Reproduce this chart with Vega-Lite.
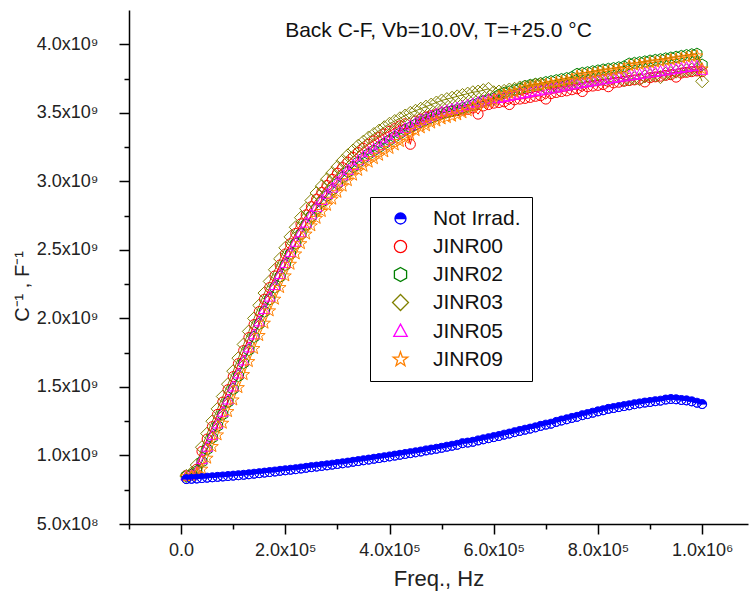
{
  "$schema": "https://vega.github.io/schema/vega-lite/v6.json",
  "width": 619,
  "height": 514,
  "autosize": {"type": "none"},
  "padding": {"left": 129, "top": 10, "right": 2, "bottom": 77},
  "background": "white",
  "title": {"text": "Back C-F, Vb=10.0V, T=+25.0 °C", "orient": "top", "anchor": "middle", "frame": "group", "offset": -28, "dy": 20, "baseline": "alphabetic", "font": "Liberation Sans", "fontSize": 21, "fontWeight": "normal", "color": "#111"},
  "data": {"values": [
    {"f":10000,"NotIrrad":0.828e9,"JINR00":0.855e9,"JINR02":0.850e9,"JINR03":0.850e9,"JINR05":0.850e9,"JINR09":0.845e9},
    {"f":20000,"NotIrrad":0.830e9,"JINR00":0.860e9,"JINR02":0.860e9,"JINR03":0.870e9,"JINR05":0.855e9,"JINR09":0.850e9},
    {"f":30000,"NotIrrad":0.832e9,"JINR00":0.900e9,"JINR02":0.885e9,"JINR03":0.930e9,"JINR05":0.880e9,"JINR09":0.865e9},
    {"f":40000,"NotIrrad":0.835e9,"JINR00":1.030e9,"JINR02":0.955e9,"JINR03":1.060e9,"JINR05":0.970e9,"JINR09":0.900e9},
    {"f":50000,"NotIrrad":0.838e9,"JINR00":1.120e9,"JINR02":1.045e9,"JINR03":1.160e9,"JINR05":1.060e9,"JINR09":0.980e9},
    {"f":60000,"NotIrrad":0.841e9,"JINR00":1.210e9,"JINR02":1.130e9,"JINR03":1.250e9,"JINR05":1.145e9,"JINR09":1.065e9},
    {"f":70000,"NotIrrad":0.844e9,"JINR00":1.300e9,"JINR02":1.215e9,"JINR03":1.340e9,"JINR05":1.230e9,"JINR09":1.150e9},
    {"f":80000,"NotIrrad":0.847e9,"JINR00":1.390e9,"JINR02":1.300e9,"JINR03":1.430e9,"JINR05":1.315e9,"JINR09":1.235e9},
    {"f":90000,"NotIrrad":0.850e9,"JINR00":1.480e9,"JINR02":1.390e9,"JINR03":1.520e9,"JINR05":1.405e9,"JINR09":1.320e9},
    {"f":100000,"NotIrrad":0.853e9,"JINR00":1.575e9,"JINR02":1.485e9,"JINR03":1.615e9,"JINR05":1.500e9,"JINR09":1.405e9},
    {"f":110000,"NotIrrad":0.856e9,"JINR00":1.670e9,"JINR02":1.580e9,"JINR03":1.710e9,"JINR05":1.595e9,"JINR09":1.495e9},
    {"f":120000,"NotIrrad":0.859e9,"JINR00":1.765e9,"JINR02":1.675e9,"JINR03":1.810e9,"JINR05":1.690e9,"JINR09":1.590e9},
    {"f":130000,"NotIrrad":0.863e9,"JINR00":1.860e9,"JINR02":1.770e9,"JINR03":1.905e9,"JINR05":1.785e9,"JINR09":1.685e9},
    {"f":140000,"NotIrrad":0.867e9,"JINR00":1.955e9,"JINR02":1.865e9,"JINR03":2.000e9,"JINR05":1.880e9,"JINR09":1.780e9},
    {"f":150000,"NotIrrad":0.871e9,"JINR00":2.050e9,"JINR02":1.960e9,"JINR03":2.095e9,"JINR05":1.975e9,"JINR09":1.875e9},
    {"f":160000,"NotIrrad":0.875e9,"JINR00":2.140e9,"JINR02":2.050e9,"JINR03":2.185e9,"JINR05":2.065e9,"JINR09":1.965e9},
    {"f":170000,"NotIrrad":0.879e9,"JINR00":2.225e9,"JINR02":2.140e9,"JINR03":2.270e9,"JINR05":2.155e9,"JINR09":2.055e9},
    {"f":180000,"NotIrrad":0.883e9,"JINR00":2.310e9,"JINR02":2.225e9,"JINR03":2.355e9,"JINR05":2.240e9,"JINR09":2.140e9},
    {"f":190000,"NotIrrad":0.888e9,"JINR00":2.390e9,"JINR02":2.305e9,"JINR03":2.435e9,"JINR05":2.320e9,"JINR09":2.225e9},
    {"f":200000,"NotIrrad":0.892e9,"JINR00":2.470e9,"JINR02":2.390e9,"JINR03":2.515e9,"JINR05":2.400e9,"JINR09":2.310e9},
    {"f":210000,"NotIrrad":0.896e9,"JINR00":2.545e9,"JINR02":2.470e9,"JINR03":2.595e9,"JINR05":2.480e9,"JINR09":2.395e9},
    {"f":220000,"NotIrrad":0.900e9,"JINR00":2.620e9,"JINR02":2.545e9,"JINR03":2.665e9,"JINR05":2.555e9,"JINR09":2.470e9},
    {"f":230000,"NotIrrad":0.905e9,"JINR00":2.690e9,"JINR02":2.615e9,"JINR03":2.735e9,"JINR05":2.625e9,"JINR09":2.545e9},
    {"f":240000,"NotIrrad":0.910e9,"JINR00":2.755e9,"JINR02":2.685e9,"JINR03":2.800e9,"JINR05":2.695e9,"JINR09":2.615e9},
    {"f":250000,"NotIrrad":0.915e9,"JINR00":2.815e9,"JINR02":2.745e9,"JINR03":2.860e9,"JINR05":2.755e9,"JINR09":2.675e9},
    {"f":260000,"NotIrrad":0.919e9,"JINR00":2.870e9,"JINR02":2.800e9,"JINR03":2.915e9,"JINR05":2.810e9,"JINR09":2.730e9},
    {"f":270000,"NotIrrad":0.924e9,"JINR00":2.920e9,"JINR02":2.850e9,"JINR03":2.965e9,"JINR05":2.860e9,"JINR09":2.780e9},
    {"f":280000,"NotIrrad":0.928e9,"JINR00":2.970e9,"JINR02":2.895e9,"JINR03":3.015e9,"JINR05":2.905e9,"JINR09":2.825e9},
    {"f":290000,"NotIrrad":0.933e9,"JINR00":3.015e9,"JINR02":2.940e9,"JINR03":3.060e9,"JINR05":2.950e9,"JINR09":2.870e9},
    {"f":300000,"NotIrrad":0.938e9,"JINR00":3.060e9,"JINR02":2.985e9,"JINR03":3.105e9,"JINR05":2.995e9,"JINR09":2.920e9},
    {"f":310000,"NotIrrad":0.943e9,"JINR00":3.100e9,"JINR02":3.030e9,"JINR03":3.150e9,"JINR05":3.040e9,"JINR09":2.965e9},
    {"f":320000,"NotIrrad":0.948e9,"JINR00":3.140e9,"JINR02":3.070e9,"JINR03":3.190e9,"JINR05":3.080e9,"JINR09":3.005e9},
    {"f":330000,"NotIrrad":0.954e9,"JINR00":3.175e9,"JINR02":3.105e9,"JINR03":3.225e9,"JINR05":3.115e9,"JINR09":3.045e9},
    {"f":340000,"NotIrrad":0.959e9,"JINR00":3.210e9,"JINR02":3.140e9,"JINR03":3.260e9,"JINR05":3.150e9,"JINR09":3.080e9},
    {"f":350000,"NotIrrad":0.965e9,"JINR00":3.240e9,"JINR02":3.170e9,"JINR03":3.290e9,"JINR05":3.180e9,"JINR09":3.110e9},
    {"f":360000,"NotIrrad":0.970e9,"JINR00":3.270e9,"JINR02":3.200e9,"JINR03":3.320e9,"JINR05":3.210e9,"JINR09":3.140e9},
    {"f":370000,"NotIrrad":0.976e9,"JINR00":3.295e9,"JINR02":3.225e9,"JINR03":3.345e9,"JINR05":3.235e9,"JINR09":3.165e9},
    {"f":380000,"NotIrrad":0.981e9,"JINR00":3.320e9,"JINR02":3.250e9,"JINR03":3.370e9,"JINR05":3.260e9,"JINR09":3.190e9},
    {"f":390000,"NotIrrad":0.987e9,"JINR00":3.345e9,"JINR02":3.275e9,"JINR03":3.395e9,"JINR05":3.285e9,"JINR09":3.215e9},
    {"f":400000,"NotIrrad":0.993e9,"JINR00":3.365e9,"JINR02":3.300e9,"JINR03":3.420e9,"JINR05":3.310e9,"JINR09":3.240e9},
    {"f":410000,"NotIrrad":0.999e9,"JINR00":3.385e9,"JINR02":3.325e9,"JINR03":3.440e9,"JINR05":3.335e9,"JINR09":3.265e9},
    {"f":420000,"NotIrrad":1.005e9,"JINR00":3.405e9,"JINR02":3.350e9,"JINR03":3.460e9,"JINR05":3.360e9,"JINR09":3.290e9},
    {"f":430000,"NotIrrad":1.011e9,"JINR00":3.420e9,"JINR02":3.375e9,"JINR03":3.480e9,"JINR05":3.385e9,"JINR09":3.315e9},
    {"f":440000,"NotIrrad":1.017e9,"JINR00":3.270e9,"JINR02":3.395e9,"JINR03":3.500e9,"JINR05":3.405e9,"JINR09":3.335e9},
    {"f":450000,"NotIrrad":1.023e9,"JINR00":3.440e9,"JINR02":3.415e9,"JINR03":3.515e9,"JINR05":3.425e9,"JINR09":3.370e9},
    {"f":460000,"NotIrrad":1.029e9,"JINR00":3.455e9,"JINR02":3.435e9,"JINR03":3.530e9,"JINR05":3.445e9,"JINR09":3.390e9},
    {"f":470000,"NotIrrad":1.037e9,"JINR00":3.470e9,"JINR02":3.450e9,"JINR03":3.545e9,"JINR05":3.460e9,"JINR09":3.405e9},
    {"f":480000,"NotIrrad":1.043e9,"JINR00":3.480e9,"JINR02":3.465e9,"JINR03":3.560e9,"JINR05":3.475e9,"JINR09":3.425e9},
    {"f":490000,"NotIrrad":1.049e9,"JINR00":3.490e9,"JINR02":3.480e9,"JINR03":3.575e9,"JINR05":3.490e9,"JINR09":3.440e9},
    {"f":500000,"NotIrrad":1.056e9,"JINR00":3.500e9,"JINR02":3.495e9,"JINR03":3.590e9,"JINR05":3.505e9,"JINR09":3.455e9},
    {"f":510000,"NotIrrad":1.064e9,"JINR00":3.505e9,"JINR02":3.505e9,"JINR03":3.600e9,"JINR05":3.515e9,"JINR09":3.465e9},
    {"f":520000,"NotIrrad":1.071e9,"JINR00":3.510e9,"JINR02":3.515e9,"JINR03":3.610e9,"JINR05":3.525e9,"JINR09":3.475e9},
    {"f":530000,"NotIrrad":1.078e9,"JINR00":3.515e9,"JINR02":3.525e9,"JINR03":3.620e9,"JINR05":3.535e9,"JINR09":3.485e9},
    {"f":540000,"NotIrrad":1.090e9,"JINR00":3.520e9,"JINR02":3.535e9,"JINR03":3.630e9,"JINR05":3.545e9,"JINR09":3.500e9},
    {"f":550000,"NotIrrad":1.094e9,"JINR00":3.525e9,"JINR02":3.545e9,"JINR03":3.640e9,"JINR05":3.555e9,"JINR09":3.515e9},
    {"f":560000,"NotIrrad":1.100e9,"JINR00":3.535e9,"JINR02":3.558e9,"JINR03":3.650e9,"JINR05":3.565e9,"JINR09":3.540e9},
    {"f":570000,"NotIrrad":1.110e9,"JINR00":3.490e9,"JINR02":3.570e9,"JINR03":3.655e9,"JINR05":3.575e9,"JINR09":3.555e9},
    {"f":580000,"NotIrrad":1.118e9,"JINR00":3.550e9,"JINR02":3.585e9,"JINR03":3.665e9,"JINR05":3.585e9,"JINR09":3.570e9},
    {"f":590000,"NotIrrad":1.126e9,"JINR00":3.560e9,"JINR02":3.595e9,"JINR03":3.675e9,"JINR05":3.595e9,"JINR09":3.580e9},
    {"f":600000,"NotIrrad":1.134e9,"JINR00":3.570e9,"JINR02":3.605e9,"JINR03":3.650e9,"JINR05":3.600e9,"JINR09":3.590e9},
    {"f":610000,"NotIrrad":1.142e9,"JINR00":3.575e9,"JINR02":3.630e9,"JINR03":3.655e9,"JINR05":3.605e9,"JINR09":3.620e9},
    {"f":620000,"NotIrrad":1.152e9,"JINR00":3.580e9,"JINR02":3.645e9,"JINR03":3.660e9,"JINR05":3.612e9,"JINR09":3.632e9},
    {"f":630000,"NotIrrad":1.160e9,"JINR00":3.560e9,"JINR02":3.655e9,"JINR03":3.670e9,"JINR05":3.620e9,"JINR09":3.642e9},
    {"f":640000,"NotIrrad":1.170e9,"JINR00":3.595e9,"JINR02":3.665e9,"JINR03":3.675e9,"JINR05":3.627e9,"JINR09":3.650e9},
    {"f":650000,"NotIrrad":1.179e9,"JINR00":3.600e9,"JINR02":3.675e9,"JINR03":3.685e9,"JINR05":3.635e9,"JINR09":3.660e9},
    {"f":660000,"NotIrrad":1.188e9,"JINR00":3.605e9,"JINR02":3.695e9,"JINR03":3.690e9,"JINR05":3.640e9,"JINR09":3.680e9},
    {"f":670000,"NotIrrad":1.196e9,"JINR00":3.612e9,"JINR02":3.703e9,"JINR03":3.695e9,"JINR05":3.647e9,"JINR09":3.688e9},
    {"f":680000,"NotIrrad":1.205e9,"JINR00":3.620e9,"JINR02":3.710e9,"JINR03":3.705e9,"JINR05":3.655e9,"JINR09":3.695e9},
    {"f":690000,"NotIrrad":1.216e9,"JINR00":3.625e9,"JINR02":3.715e9,"JINR03":3.710e9,"JINR05":3.660e9,"JINR09":3.700e9},
    {"f":700000,"NotIrrad":1.225e9,"JINR00":3.600e9,"JINR02":3.723e9,"JINR03":3.680e9,"JINR05":3.667e9,"JINR09":3.708e9},
    {"f":710000,"NotIrrad":1.232e9,"JINR00":3.640e9,"JINR02":3.730e9,"JINR03":3.685e9,"JINR05":3.674e9,"JINR09":3.715e9},
    {"f":720000,"NotIrrad":1.245e9,"JINR00":3.648e9,"JINR02":3.737e9,"JINR03":3.690e9,"JINR05":3.680e9,"JINR09":3.722e9},
    {"f":730000,"NotIrrad":1.255e9,"JINR00":3.655e9,"JINR02":3.745e9,"JINR03":3.700e9,"JINR05":3.688e9,"JINR09":3.730e9},
    {"f":740000,"NotIrrad":1.264e9,"JINR00":3.660e9,"JINR02":3.752e9,"JINR03":3.705e9,"JINR05":3.695e9,"JINR09":3.737e9},
    {"f":750000,"NotIrrad":1.274e9,"JINR00":3.668e9,"JINR02":3.760e9,"JINR03":3.710e9,"JINR05":3.702e9,"JINR09":3.745e9},
    {"f":760000,"NotIrrad":1.282e9,"JINR00":3.675e9,"JINR02":3.783e9,"JINR03":3.718e9,"JINR05":3.708e9,"JINR09":3.768e9},
    {"f":770000,"NotIrrad":1.294e9,"JINR00":3.655e9,"JINR02":3.790e9,"JINR03":3.720e9,"JINR05":3.715e9,"JINR09":3.775e9},
    {"f":780000,"NotIrrad":1.302e9,"JINR00":3.690e9,"JINR02":3.795e9,"JINR03":3.730e9,"JINR05":3.720e9,"JINR09":3.780e9},
    {"f":790000,"NotIrrad":1.312e9,"JINR00":3.695e9,"JINR02":3.802e9,"JINR03":3.735e9,"JINR05":3.727e9,"JINR09":3.787e9},
    {"f":800000,"NotIrrad":1.322e9,"JINR00":3.700e9,"JINR02":3.808e9,"JINR03":3.740e9,"JINR05":3.733e9,"JINR09":3.793e9},
    {"f":810000,"NotIrrad":1.330e9,"JINR00":3.706e9,"JINR02":3.815e9,"JINR03":3.745e9,"JINR05":3.740e9,"JINR09":3.800e9},
    {"f":820000,"NotIrrad":1.340e9,"JINR00":3.690e9,"JINR02":3.820e9,"JINR03":3.750e9,"JINR05":3.745e9,"JINR09":3.805e9},
    {"f":830000,"NotIrrad":1.346e9,"JINR00":3.718e9,"JINR02":3.825e9,"JINR03":3.755e9,"JINR05":3.750e9,"JINR09":3.810e9},
    {"f":840000,"NotIrrad":1.353e9,"JINR00":3.723e9,"JINR02":3.831e9,"JINR03":3.760e9,"JINR05":3.756e9,"JINR09":3.816e9},
    {"f":850000,"NotIrrad":1.360e9,"JINR00":3.730e9,"JINR02":3.837e9,"JINR03":3.740e9,"JINR05":3.762e9,"JINR09":3.822e9},
    {"f":860000,"NotIrrad":1.366e9,"JINR00":3.735e9,"JINR02":3.858e9,"JINR03":3.745e9,"JINR05":3.768e9,"JINR09":3.843e9},
    {"f":870000,"NotIrrad":1.374e9,"JINR00":3.740e9,"JINR02":3.863e9,"JINR03":3.752e9,"JINR05":3.773e9,"JINR09":3.848e9},
    {"f":880000,"NotIrrad":1.380e9,"JINR00":3.745e9,"JINR02":3.868e9,"JINR03":3.745e9,"JINR05":3.778e9,"JINR09":3.853e9},
    {"f":890000,"NotIrrad":1.386e9,"JINR00":3.725e9,"JINR02":3.874e9,"JINR03":3.765e9,"JINR05":3.784e9,"JINR09":3.859e9},
    {"f":900000,"NotIrrad":1.390e9,"JINR00":3.756e9,"JINR02":3.880e9,"JINR03":3.770e9,"JINR05":3.790e9,"JINR09":3.865e9},
    {"f":910000,"NotIrrad":1.396e9,"JINR00":3.762e9,"JINR02":3.885e9,"JINR03":3.775e9,"JINR05":3.795e9,"JINR09":3.870e9},
    {"f":920000,"NotIrrad":1.400e9,"JINR00":3.767e9,"JINR02":3.890e9,"JINR03":3.760e9,"JINR05":3.800e9,"JINR09":3.875e9},
    {"f":930000,"NotIrrad":1.408e9,"JINR00":3.773e9,"JINR02":3.896e9,"JINR03":3.785e9,"JINR05":3.806e9,"JINR09":3.881e9},
    {"f":940000,"NotIrrad":1.412e9,"JINR00":3.778e9,"JINR02":3.902e9,"JINR03":3.790e9,"JINR05":3.812e9,"JINR09":3.887e9},
    {"f":950000,"NotIrrad":1.410e9,"JINR00":3.760e9,"JINR02":3.908e9,"JINR03":3.800e9,"JINR05":3.818e9,"JINR09":3.893e9},
    {"f":960000,"NotIrrad":1.405e9,"JINR00":3.790e9,"JINR02":3.914e9,"JINR03":3.805e9,"JINR05":3.824e9,"JINR09":3.899e9},
    {"f":970000,"NotIrrad":1.402e9,"JINR00":3.795e9,"JINR02":3.920e9,"JINR03":3.810e9,"JINR05":3.830e9,"JINR09":3.905e9},
    {"f":980000,"NotIrrad":1.395e9,"JINR00":3.800e9,"JINR02":3.926e9,"JINR03":3.815e9,"JINR05":3.836e9,"JINR09":3.911e9},
    {"f":990000,"NotIrrad":1.385e9,"JINR00":3.805e9,"JINR02":3.930e9,"JINR03":3.818e9,"JINR05":3.840e9,"JINR09":3.915e9},
    {"f":1000000,"NotIrrad":1.375e9,"JINR00":3.800e9,"JINR02":3.850e9,"JINR03":3.730e9,"JINR05":3.810e9,"JINR09":3.820e9}
  ]},
  "transform": [{"fold": ["NotIrrad", "JINR00", "JINR02", "JINR03", "JINR05", "JINR09"], "as": ["series", "v"]}],
  "encoding": {
    "x": {"field": "f", "type": "quantitative",
      "scale": {"domain": [-100000, 1088000], "nice": false, "zero": false},
      "axis": {"title": "Freq., Hz", "values": [-100000, 0, 100000, 200000, 300000, 400000, 500000, 600000, 700000, 800000, 900000, 1000000],
        "labelExpr": "datum.value % 200000 != 0 ? '' : (datum.value == 0 ? '0.0' : (datum.value >= 1000000 ? format(datum.value/1000000, '.1f') + 'x10⁶' : format(datum.value/100000, '.1f') + 'x10⁵'))",
        "tickSize": {"condition": {"test": "datum.value % 200000 == 0", "value": 10}, "value": 5},
        "labelPadding": 7, "titlePadding": 9, "titleFontSize": 22}},
    "y": {"field": "v", "type": "quantitative",
      "scale": {"domain": [500000000, 4250000000], "nice": false, "zero": false},
      "axis": {"title": "C⁻¹ , F⁻¹", "values": [500000000, 750000000, 1000000000, 1250000000, 1500000000, 1750000000, 2000000000, 2250000000, 2500000000, 2750000000, 3000000000, 3250000000, 3500000000, 3750000000, 4000000000],
        "labelExpr": "datum.value % 500000000 != 0 ? '' : (datum.value >= 1000000000 ? format(datum.value/1000000000, '.1f') + 'x10⁹' : format(datum.value/100000000, '.1f') + 'x10⁸')",
        "tickSize": {"condition": {"test": "datum.value % 500000000 == 0", "value": 10}, "value": 5},
        "labelPadding": 21, "titlePadding": 4, "titleY": 276}}
  },
  "layer": [
    {
      "mark": {"type": "line", "strokeWidth": 1},
      "encoding": {
        "color": {"field": "series", "type": "nominal",
          "scale": {"domain": ["NotIrrad", "JINR00", "JINR02", "JINR03", "JINR05", "JINR09"], "range": ["#0000ff", "#ff0000", "#008000", "#808000", "#ff00ff", "#ff8000"]},
          "legend": null}
      }
    },
    {
      "mark": {"type": "point", "filled": false, "size": 100, "strokeWidth": 1, "opacity": 1},
      "encoding": {
        "stroke": {"field": "series", "type": "nominal",
          "scale": {"domain": ["NotIrrad", "JINR00", "JINR02", "JINR03", "JINR05", "JINR09"], "range": ["#0000ff", "#ff0000", "#008000", "#808000", "#ff00ff", "#ff8000"]},
          "legend": {"title": null, "orient": "none", "legendX": 241, "legendY": 187, "labelExpr": "datum.label == 'NotIrrad' ? 'Not Irrad.' : datum.label"}},
        "fill": {"field": "series", "type": "nominal",
          "scale": {"domain": ["NotIrrad", "JINR00", "JINR02", "JINR03", "JINR05", "JINR09"], "range": ["#0000ff", "transparent", "transparent", "transparent", "transparent", "transparent"]},
          "legend": {"title": null, "orient": "none", "legendX": 241, "legendY": 187, "labelExpr": "datum.label == 'NotIrrad' ? 'Not Irrad.' : datum.label"}},
        "shape": {"field": "series", "type": "nominal",
          "scale": {"domain": ["NotIrrad", "JINR00", "JINR02", "JINR03", "JINR05", "JINR09"],
            "range": [
              "M-0.9,0A0.9,0.9,0,1,1,0.9,0A0.9,0.9,0,1,1,-0.9,0ZM-0.9,0A0.9,0.9,0,0,0,0.9,0Z",
              "circle",
              "M0,-1.15L0.996,-0.575L0.996,0.575L0,1.15L-0.996,0.575L-0.996,-0.575Z",
              "M-1.3,0L0,-1.3L1.3,0L0,1.3Z",
              "M0,-1.2L1.1,0.8L-1.1,0.8Z",
              "M0,-1.25L0.294,-0.405L1.189,-0.386L0.476,0.155L0.735,1.011L0,0.5L-0.735,1.011L-0.476,0.155L-1.189,-0.386L-0.294,-0.405Z"
            ]},
          "legend": {"title": null, "orient": "none", "legendX": 241, "legendY": 187, "labelExpr": "datum.label == 'NotIrrad' ? 'Not Irrad.' : datum.label"}},
        "order": {"field": "series", "type": "nominal"}
      }
    }
  ],
  "resolve": {"scale": {"color": "independent"}, "legend": {"color": "independent"}},
  "config": {
    "view": {"stroke": null},
    "font": "Liberation Sans",
    "axis": {"grid": false, "domainColor": "#000", "domainWidth": 1.5, "tickColor": "#000", "tickWidth": 1.5,
      "labelFont": "Liberation Sans", "labelFontSize": 18, "labelColor": "#222", "labelOverlap": false, "labelFlush": false, "labelBound": false,
      "titleFont": "Liberation Sans", "titleFontSize": 20, "titleFontWeight": "normal", "titleColor": "#222"},
    "legend": {"strokeColor": "#000", "strokeWidth": 1, "fillColor": "#fff", "padding": 11, "labelFont": "Liberation Sans", "labelFontSize": 21, "labelColor": "#111",
      "symbolSize": 150, "symbolStrokeWidth": 1.3, "rowPadding": 6, "labelOffset": 22, "symbolOffset": 9}
  }
}
